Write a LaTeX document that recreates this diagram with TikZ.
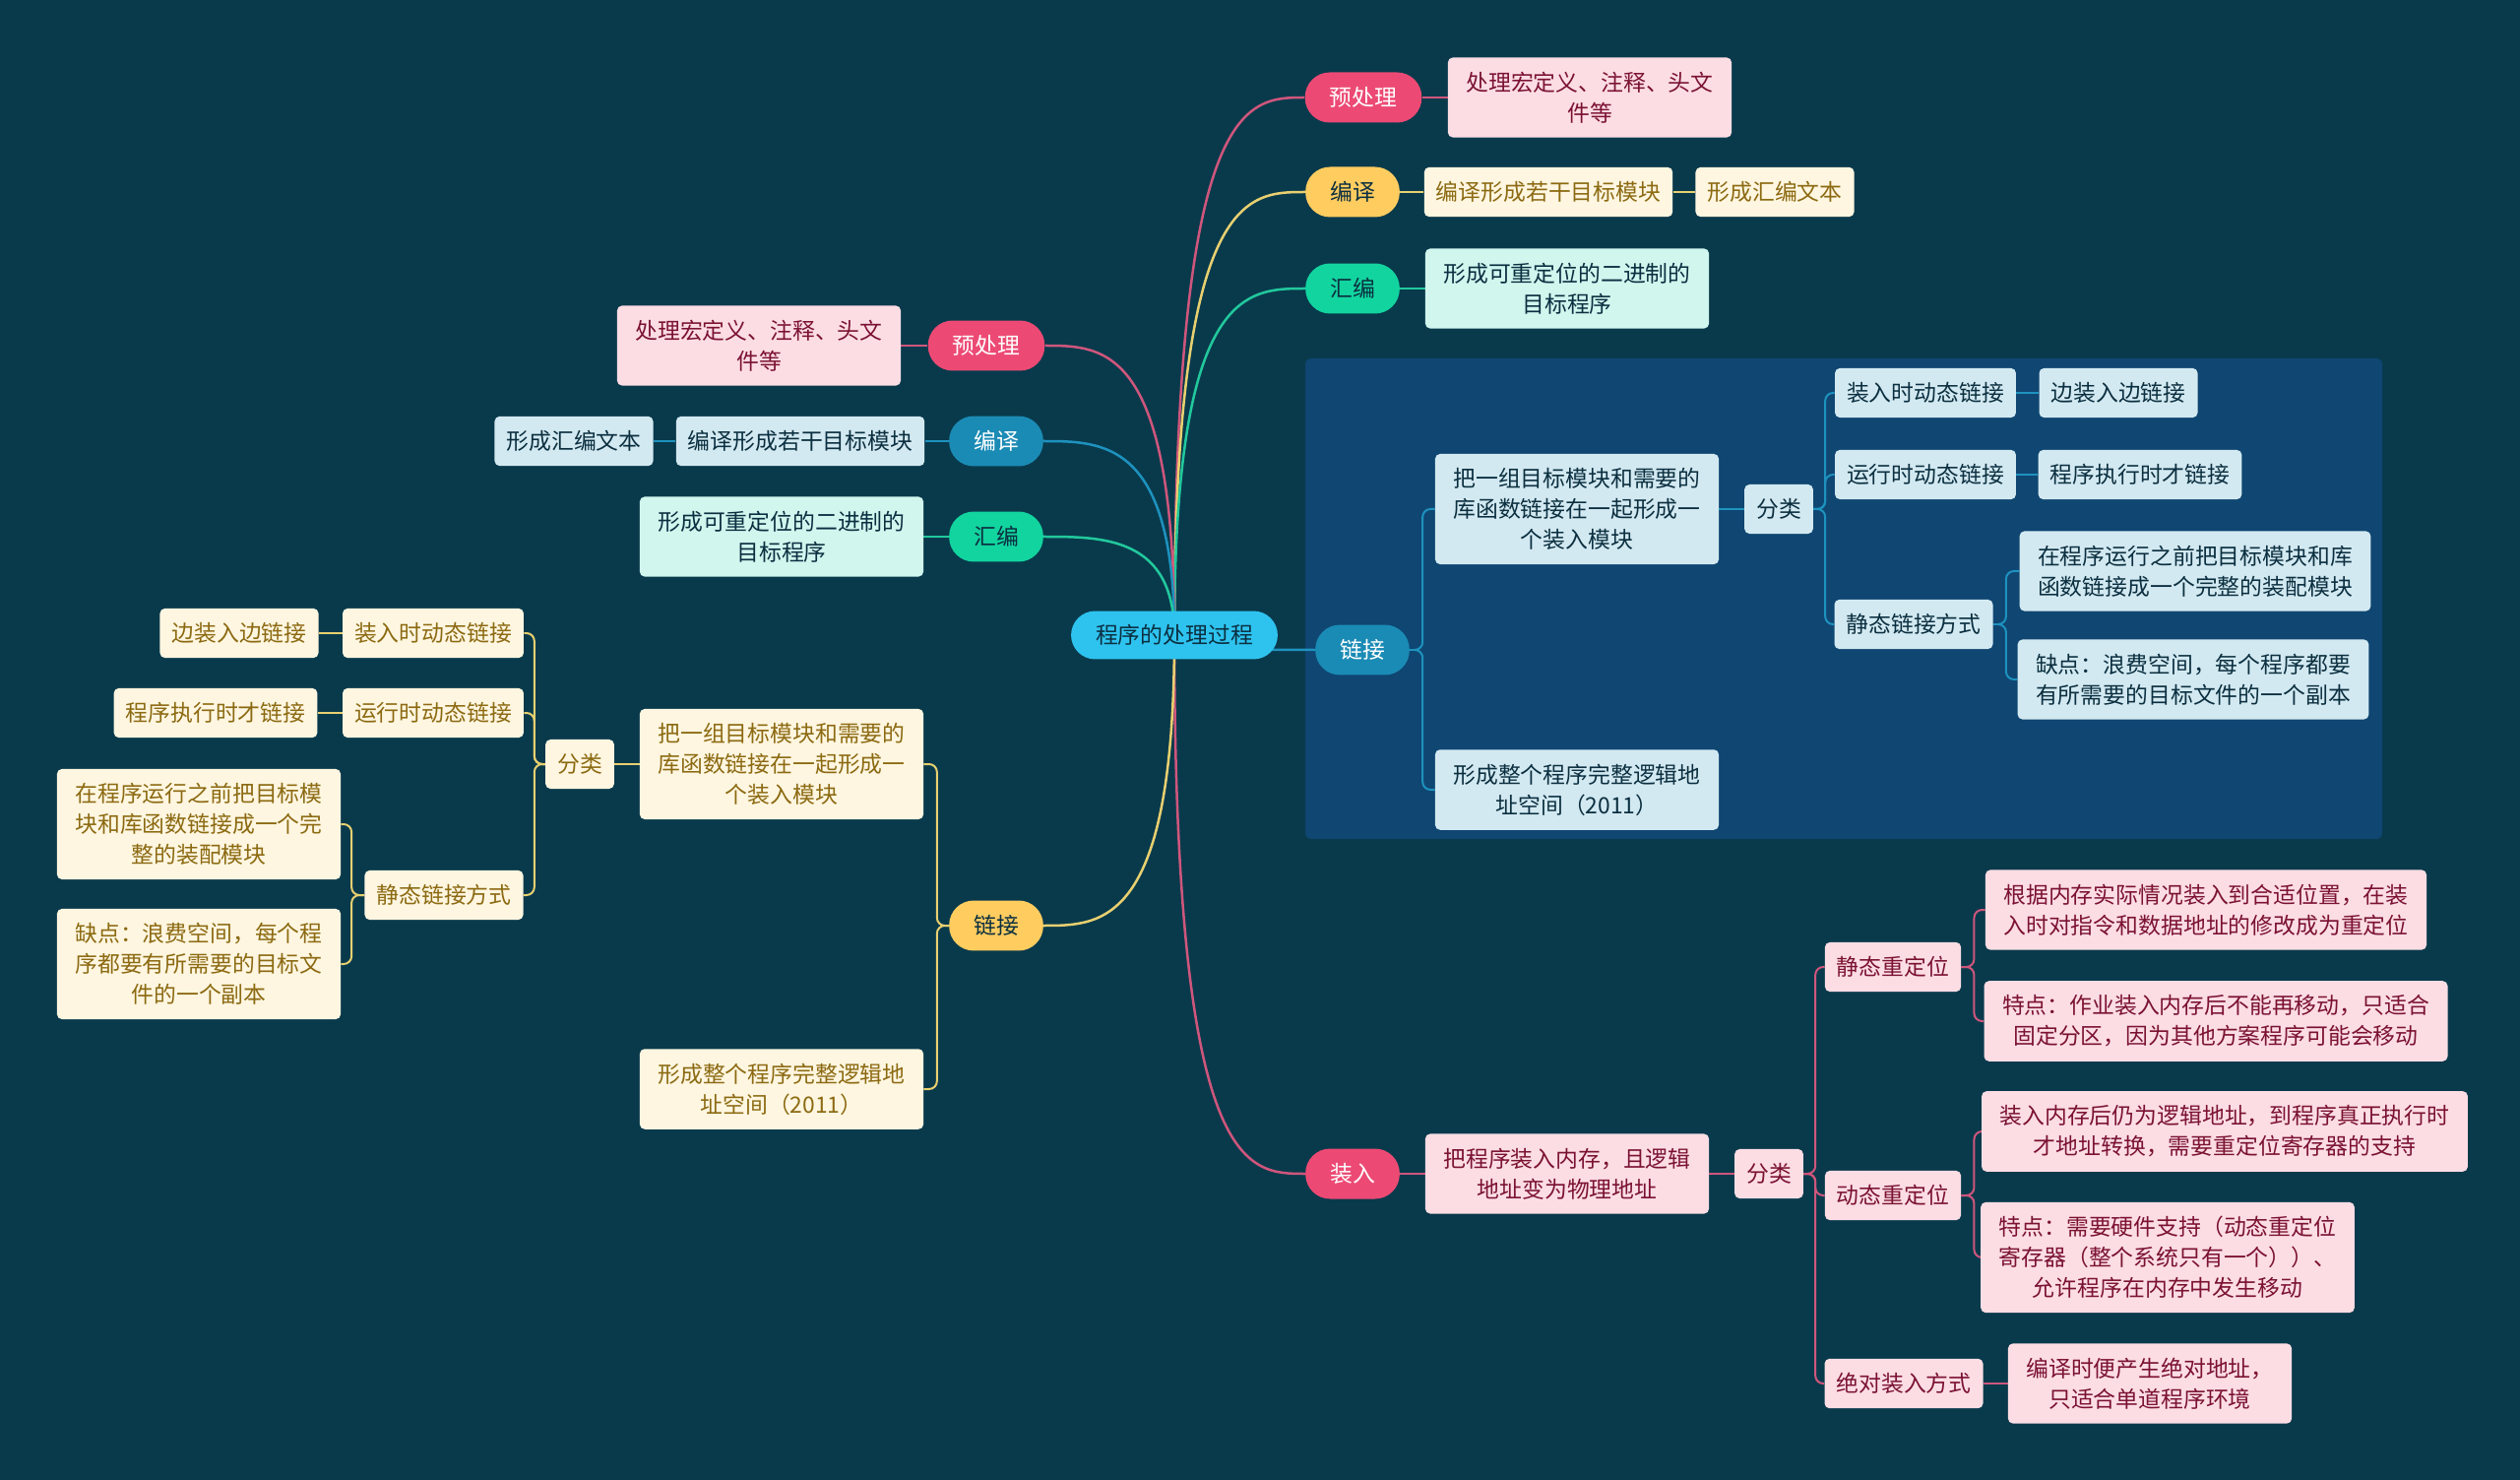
\documentclass[tikz,border=0pt]{standalone}
\usepackage{fontspec}
\setmainfont{Noto Sans CJK SC}
\usepackage{tikz}
\usetikzlibrary{calc}

\definecolor{bgcol}{HTML}{093A4C}
\definecolor{panel}{HTML}{0F4672}
\definecolor{rootc}{HTML}{2EC3EF}
\definecolor{darktx}{HTML}{0B2F40}
\definecolor{pinkc}{HTML}{EC4A74}
\definecolor{yellowc}{HTML}{FECC5F}
\definecolor{greenc}{HTML}{12D49F}
\definecolor{bluec}{HTML}{1A8BB5}
\definecolor{pinkbg}{HTML}{FCDDE4}
\definecolor{pinktx}{HTML}{7B1232}
\definecolor{creambg}{HTML}{FEF6E0}
\definecolor{creamtx}{HTML}{8C6A12}
\definecolor{bluebg}{HTML}{D3E9F1}
\definecolor{mintbg}{HTML}{D1F6EE}
\definecolor{pinkln}{HTML}{CF567C}
\definecolor{yellowln}{HTML}{E8D070}
\definecolor{greenln}{HTML}{22C99D}
\definecolor{blueln}{HTML}{1E92BE}

\pgfdeclarelayer{back}
\pgfdeclarelayer{edges}
\pgfsetlayers{back,edges,main}

\tikzset{
  txt/.style={font=\fontsize{13}{17.6}\selectfont},
  pill/.style={txt, rounded corners=0.5cm, minimum height=1.02cm, inner xsep=0.5cm},
  pinktopic/.style={pill, fill=pinkc, text=white},
  yellowtopic/.style={pill, fill=yellowc, text=darktx},
  greentopic/.style={pill, fill=greenc, text=darktx},
  bluetopic/.style={pill, fill=bluec, text=white},
  leaf/.style={txt, rounded corners=0.1cm, align=center, inner xsep=0.24cm, inner ysep=0.29cm, minimum height=1cm},
  multi/.style={inner xsep=0.37cm},
  pinkleaf/.style={leaf, fill=pinkbg, text=pinktx},
  creamleaf/.style={leaf, fill=creambg, text=creamtx},
  blueleaf/.style={leaf, fill=bluebg, text=darktx},
  mintleaf/.style={leaf, fill=mintbg, text=darktx},
  branch/.style={line width=0.05cm},
  fork/.style={line width=0.04cm, rounded corners=0.16cm},
}

\begin{document}
\begin{tikzpicture}[x=0.02cm, y=-0.02cm]
    \begin{pgfonlayer}{back}
        \fill[bgcol] (0,0) rectangle (2560,1503);
        \fill[panel, rounded corners=0.12cm] (1326,364) rectangle (2420,852);
    \end{pgfonlayer}
    \useasboundingbox (0,0) rectangle (2560,1503);

    % root
    \node[pill, fill=rootc, text=darktx, rounded corners=0.49cm, minimum height=0.98cm] (root) at (1193,645) {程序的处理过程};

    % right side
    \node[pinktopic] (preR) at (1385,99) {预处理};
    \node[pinkleaf, multi] (preRa) at (1615,99) {处理宏定义、注释、头文\\件等};

    \node[yellowtopic] (comR) at (1374,195) {编译};
    \node[creamleaf] (comRa) at (1573,195) {编译形成若干目标模块};
    \node[creamleaf] (comRb) at (1803,195) {形成汇编文本};

    \node[greentopic] (asmR) at (1374,293) {汇编};
    \node[mintleaf, multi] (asmRa) at (1592,293) {形成可重定位的二进制的\\目标程序};

    \node[bluetopic] (linkR) at (1384,660) {链接};
    \node[blueleaf, multi] (linkRa) at (1602,517) {把一组目标模块和需要的\\库函数链接在一起形成一\\个装入模块};
    \node[blueleaf, multi] (linkRb) at (1602,802) {形成整个程序完整逻辑地\\址空间（2011）};
    \node[blueleaf] (sortR) at (1807,517) {分类};
    \node[blueleaf] (ldynR) at (1956,399) {装入时动态链接};
    \node[blueleaf] (ldynRa) at (2152,399) {边装入边链接};
    \node[blueleaf] (rdynR) at (1956,482) {运行时动态链接};
    \node[blueleaf] (rdynRa) at (2174,482) {程序执行时才链接};
    \node[blueleaf] (statR) at (1944,634) {静态链接方式};
    \node[blueleaf, multi] (statRa) at (2230,580) {在程序运行之前把目标模块和库\\函数链接成一个完整的装配模块};
    \node[blueleaf, multi] (statRb) at (2228,690) {缺点：浪费空间，每个程序都要\\有所需要的目标文件的一个副本};

    \node[pinktopic] (loadR) at (1374,1192) {装入};
    \node[pinkleaf, multi] (loadRa) at (1592,1192) {把程序装入内存，且逻辑\\地址变为物理地址};
    \node[pinkleaf] (sortLd) at (1797,1192) {分类};
    \node[pinkleaf] (srel) at (1923,982) {静态重定位};
    \node[pinkleaf, multi] (srelA) at (2241,924) {根据内存实际情况装入到合适位置，在装\\入时对指令和数据地址的修改成为重定位};
    \node[pinkleaf, multi] (srelB) at (2251,1037) {特点：作业装入内存后不能再移动，只适合\\固定分区，因为其他方案程序可能会移动};
    \node[pinkleaf] (drel) at (1923,1214) {动态重定位};
    \node[pinkleaf, multi] (drelA) at (2260,1149) {装入内存后仍为逻辑地址，到程序真正执行时\\才地址转换，需要重定位寄存器的支持};
    \node[pinkleaf, multi] (drelB) at (2202,1277) {特点：需要硬件支持（动态重定位\\寄存器（整个系统只有一个））、\\允许程序在内存中发生移动};
    \node[pinkleaf] (absl) at (1934,1405) {绝对装入方式};
    \node[pinkleaf, multi] (abslA) at (2184,1405) {编译时便产生绝对地址，\\只适合单道程序环境};

    % left side
    \node[pinktopic] (preL) at (1002,351) {预处理};
    \node[pinkleaf, multi] (preLa) at (771,351) {处理宏定义、注释、头文\\件等};

    \node[bluetopic] (comL) at (1012,448) {编译};
    \node[blueleaf] (comLa) at (813,448) {编译形成若干目标模块};
    \node[blueleaf] (comLb) at (583,448) {形成汇编文本};

    \node[greentopic] (asmL) at (1012,545) {汇编};
    \node[mintleaf, multi] (asmLa) at (794,545) {形成可重定位的二进制的\\目标程序};

    \node[yellowtopic] (linkL) at (1012,940) {链接};
    \node[creamleaf, multi] (linkLa) at (794,776) {把一组目标模块和需要的\\库函数链接在一起形成一\\个装入模块};
    \node[creamleaf, multi] (linkLb) at (794,1106) {形成整个程序完整逻辑地\\址空间（2011）};
    \node[creamleaf] (sortL) at (589,776) {分类};
    \node[creamleaf] (ldynL) at (440,643) {装入时动态链接};
    \node[creamleaf] (ldynLa) at (243,643) {边装入边链接};
    \node[creamleaf] (rdynL) at (440,724) {运行时动态链接};
    \node[creamleaf] (rdynLa) at (219,724) {程序执行时才链接};
    \node[creamleaf] (statL) at (451,909) {静态链接方式};
    \node[creamleaf, multi] (statLa) at (202,837) {在程序运行之前把目标模\\块和库函数链接成一个完\\整的装配模块};
    \node[creamleaf, multi] (statLb) at (202,979) {缺点：浪费空间，每个程\\序都要有所需要的目标文\\件的一个副本};

    \begin{pgfonlayer}{edges}
        % main branches
        \draw[branch, pinkln] (root.center) .. controls (root.center |- preR.west) and ($(preR.west)+(-60,0)$) .. (preR.west);
        \draw[branch, yellowln] (root.center) .. controls (root.center |- comR.west) and ($(comR.west)+(-60,0)$) .. (comR.west);
        \draw[branch, greenln] (root.center) .. controls (root.center |- asmR.west) and ($(asmR.west)+(-60,0)$) .. (asmR.west);
        \draw[branch, blueln] (root.center) .. controls (root.center |- linkR.west) and ($(linkR.west)+(-60,0)$) .. (linkR.west);
        \draw[branch, pinkln] (root.center) .. controls (root.center |- loadR.west) and ($(loadR.west)+(-60,0)$) .. (loadR.west);
        \draw[branch, pinkln] (root.center) .. controls (root.center |- preL.east) and ($(preL.east)+(60,0)$) .. (preL.east);
        \draw[branch, blueln] (root.center) .. controls (root.center |- comL.east) and ($(comL.east)+(60,0)$) .. (comL.east);
        \draw[branch, greenln] (root.center) .. controls (root.center |- asmL.east) and ($(asmL.east)+(60,0)$) .. (asmL.east);
        \draw[branch, yellowln] (root.center) .. controls (root.center |- linkL.east) and ($(linkL.east)+(60,0)$) .. (linkL.east);

        % right forks
        \draw[fork, pinkln] (preR) -- (preRa);
        \draw[fork, yellowln] (comR) -- (comRa);
        \draw[fork, yellowln] (comRa) -- (comRb);
        \draw[fork, greenln] (asmR) -- (asmRa);
        \draw[fork, blueln] (linkR.east) -- ++(13,0) |- (linkRa.west);
        \draw[fork, blueln] (linkR.east) -- ++(13,0) |- (linkRb.west);
        \draw[fork, blueln] (linkRa) -- (sortR);
        \draw[fork, blueln] (sortR.east) -- ++(12,0) |- (ldynR.west);
        \draw[fork, blueln] (sortR.east) -- ++(12,0) |- (rdynR.west);
        \draw[fork, blueln] (sortR.east) -- ++(12,0) |- (statR.west);
        \draw[fork, blueln] (ldynR) -- (ldynRa);
        \draw[fork, blueln] (rdynR) -- (rdynRa);
        \draw[fork, blueln] (statR.east) -- ++(13,0) |- (statRa.west);
        \draw[fork, blueln] (statR.east) -- ++(13,0) |- (statRb.west);
        \draw[fork, pinkln] (loadR) -- (loadRa);
        \draw[fork, pinkln] (loadRa) -- (sortLd);
        \draw[fork, pinkln] (sortLd.east) -- ++(12,0) |- (srel.west);
        \draw[fork, pinkln] (sortLd.east) -- ++(12,0) |- (drel.west);
        \draw[fork, pinkln] (sortLd.east) -- ++(12,0) |- (absl.west);
        \draw[fork, pinkln] (srel.east) -- ++(13,0) |- (srelA.west);
        \draw[fork, pinkln] (srel.east) -- ++(13,0) |- (srelB.west);
        \draw[fork, pinkln] (drel.east) -- ++(13,0) |- (drelA.west);
        \draw[fork, pinkln] (drel.east) -- ++(13,0) |- (drelB.west);
        \draw[fork, pinkln] (absl) -- (abslA);

        % left forks
        \draw[fork, pinkln] (preL) -- (preLa);
        \draw[fork, blueln] (comL) -- (comLa);
        \draw[fork, blueln] (comLa) -- (comLb);
        \draw[fork, greenln] (asmL) -- (asmLa);
        \draw[fork, yellowln] (linkL.west) -- ++(-12,0) |- (linkLa.east);
        \draw[fork, yellowln] (linkL.west) -- ++(-12,0) |- (linkLb.east);
        \draw[fork, yellowln] (linkLa) -- (sortL);
        \draw[fork, yellowln] (sortL.west) -- ++(-11,0) |- (ldynL.east);
        \draw[fork, yellowln] (sortL.west) -- ++(-11,0) |- (rdynL.east);
        \draw[fork, yellowln] (sortL.west) -- ++(-11,0) |- (statL.east);
        \draw[fork, yellowln] (ldynL) -- (ldynLa);
        \draw[fork, yellowln] (rdynL) -- (rdynLa);
        \draw[fork, yellowln] (statL.west) -- ++(-13,0) |- (statLa.east);
        \draw[fork, yellowln] (statL.west) -- ++(-13,0) |- (statLb.east);
    \end{pgfonlayer}
\end{tikzpicture}
\end{document}
